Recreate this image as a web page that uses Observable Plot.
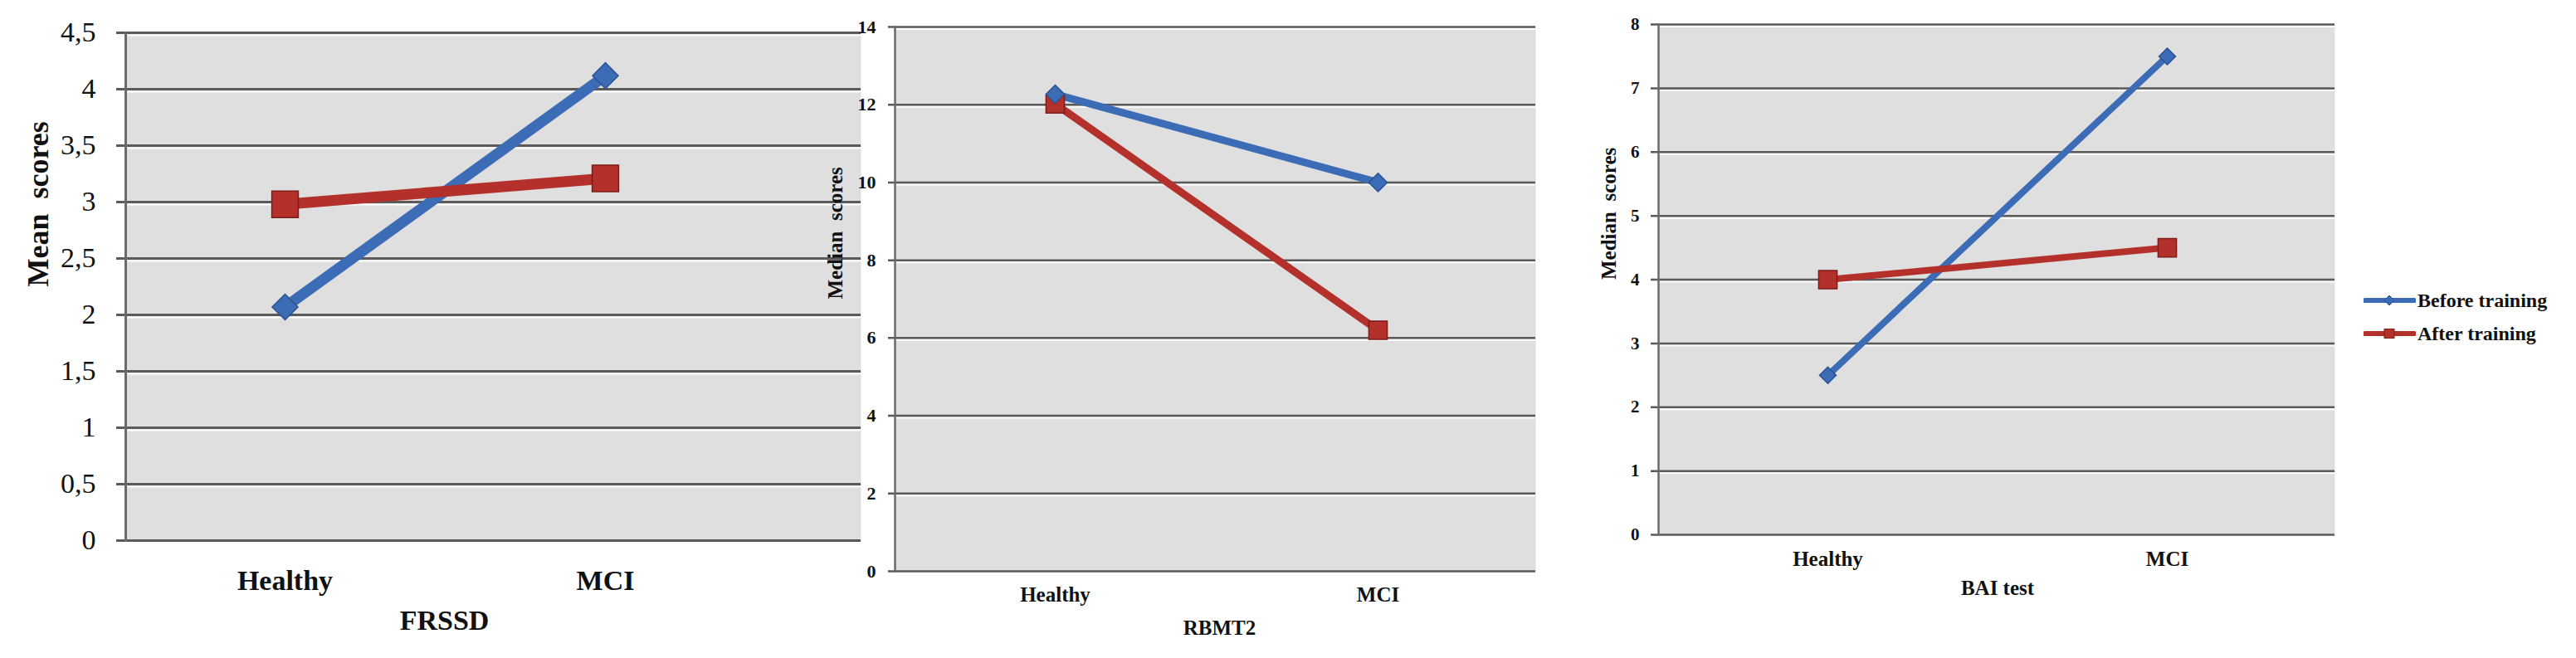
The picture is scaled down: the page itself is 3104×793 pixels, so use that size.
<!DOCTYPE html>
<html><head><meta charset="utf-8">
<script src="https://cdn.jsdelivr.net/npm/d3@7"></script>
<script src="https://cdn.jsdelivr.net/npm/@observablehq/plot@0.6"></script>
<style>
body{margin:0;background:#fff;}
#wrap{position:relative;width:3104px;height:793px;overflow:hidden;background:#fff;}
#wrap > svg{position:absolute;left:0;top:0;}
.leg{position:absolute;left:2848px;height:30px;display:flex;align-items:center;font-family:"Liberation Serif",serif;font-weight:bold;font-size:24px;color:#111;white-space:nowrap;}
.leg svg{margin-right:2px;}
</style></head>
<body><div id="wrap"></div>
<script>
// ---- data ----
const categories = ["Healthy", "MCI"];
const seriesNames = ["Before training", "After training"];
const seriesColors = ["#3b6cb5", "#b3302b"];
const seriesStrokes = ["#2a5290", "#7e1c18"];

const frssdBefore = [2.07, 4.12];
const frssdAfter  = [2.98, 3.21];
const frssdTicks  = [0, 0.5, 1, 1.5, 2, 2.5, 3, 3.5, 4, 4.5];

const rbmtBefore = [12.27, 10];
const rbmtAfter  = [12.02, 6.2];
const rbmtTicks  = [0, 2, 4, 6, 8, 10, 12, 14];

const baiBefore = [2.5, 7.5];
const baiAfter  = [4, 4.5];
const baiTicks  = [0, 1, 2, 3, 4, 5, 6, 7, 8];

const W = 3104, H = 793;

function rowsOf(before, after) {
  return [
    ...categories.map((c, i) => ({cat: c, v: before[i], s: seriesNames[0]})),
    ...categories.map((c, i) => ({cat: c, v: after[i], s: seriesNames[1]}))
  ];
}

function panel(cfg) {
  const rows = rowsOf(cfg.before, cfg.after);
  const color = {domain: seriesNames, range: seriesColors};
  return Plot.plot({
    width: W, height: H,
    marginLeft: cfg.left, marginRight: W - cfg.right,
    marginTop: cfg.top, marginBottom: H - cfg.bottom,
    style: {fontFamily: "Liberation Serif, serif", background: "transparent", overflow: "visible", color: "#111"},
    x: {type: "point", domain: categories, range: cfg.xr, padding: 0, axis: null},
    y: {domain: [0, cfg.max], axis: null},
    color: color,
    marks: [
      Plot.frame({fill: "#dfdfdf", stroke: null}),
      Plot.ruleY(cfg.ticks, {stroke: "#ffffff", strokeWidth: 2, dy: cfg.gw}),
      Plot.ruleY(cfg.ticks, {stroke: "#5a5a5a", strokeWidth: cfg.gw, insetLeft: -cfg.ts}),
      Plot.frame({anchor: "left", stroke: "#6a6a6a", strokeWidth: cfg.gw}),
      Plot.axisY({ticks: cfg.ticks, tickSize: 0, tickPadding: cfg.tp, fontSize: cfg.tfs,
        fontWeight: cfg.tfw, tickFormat: cfg.fmt, label: null}),
      Plot.text(categories, {x: d => d, frameAnchor: "bottom", dy: cfg.xdy, lineAnchor: "middle",
        fontSize: cfg.xfs, fontWeight: "bold"}),
      Plot.text([cfg.xlabel], {frameAnchor: "bottom", dx: cfg.xldx, dy: cfg.xldy, lineAnchor: "middle",
        fontSize: cfg.xlfs, fontWeight: "bold"}),
      Plot.text([cfg.ylabel], {frameAnchor: "left", rotate: -90, dx: cfg.yldx, lineAnchor: "middle",
        fontSize: cfg.ylfs, fontWeight: "bold"}),
      Plot.line(rows, {x: "cat", y: "v", z: "s", stroke: "s", strokeWidth: cfg.lw, strokeLinecap: "butt"}),
      Plot.dot(rows.filter(d => d.s === seriesNames[1]), {x: "cat", y: "v", symbol: "square", r: cfg.rs,
        fill: seriesColors[1], stroke: seriesStrokes[1], strokeWidth: 1.5}),
      Plot.dot(rows.filter(d => d.s === seriesNames[0]), {x: "cat", y: "v", symbol: "diamond2", r: cfg.rd,
        fill: seriesColors[0], stroke: seriesStrokes[0], strokeWidth: 1.5})
    ]
  });
}

const wrap = document.getElementById("wrap");
const comma = d => String(d).replace(".", ",");

wrap.appendChild(panel({
  before: frssdBefore, after: frssdAfter, ticks: frssdTicks, max: 4.5,
  left: 151, right: 1037, top: 39, bottom: 651, xr: [343, 729],
  gw: 3, ts: 11, tp: 36, tfs: 34, tfw: "normal", fmt: comma,
  xdy: 49, xfs: 34, xlabel: "FRSSD", xldx: -59, xldy: 97, xlfs: 34,
  ylabel: "Mean  scores", yldx: -105, ylfs: 36,
  lw: 13, rs: 18, rd: 14
}));

wrap.appendChild(panel({
  before: rbmtBefore, after: rbmtAfter, ticks: rbmtTicks, max: 14,
  left: 1078, right: 1850, top: 32, bottom: 688, xr: [1271, 1660],
  gw: 2.5, ts: 8, tp: 23, tfs: 22, tfw: "bold", fmt: d => d,
  xdy: 28, xfs: 25, xlabel: "RBMT2", xldx: 5, xldy: 68, xlfs: 25,
  ylabel: "Median  scores", yldx: -72, ylfs: 25,
  lw: 9, rs: 12.5, rd: 10
}));

wrap.appendChild(panel({
  before: baiBefore, after: baiAfter, ticks: baiTicks, max: 8,
  left: 1998, right: 2813, top: 29, bottom: 644, xr: [2202, 2611],
  gw: 2.5, ts: 9, tp: 23, tfs: 21, tfw: "bold", fmt: d => d,
  xdy: 29, xfs: 25, xlabel: "BAI test", xldx: 1, xldy: 64, xlfs: 25,
  ylabel: "Median  scores", yldx: -60, ylfs: 25,
  lw: 8, rs: 12.5, rd: 9
}));

// ---- legend ----
const legendTops = [347, 387];
seriesNames.forEach((name, i) => {
  const div = document.createElement("div");
  div.className = "leg";
  div.style.top = legendTops[i] + "px";
  const sym = i === 0
    ? `<path d="M31,2 L37,8 L31,14 L25,8 Z" fill="${seriesColors[0]}" stroke="${seriesStrokes[0]}" stroke-width="1"/>`
    : `<rect x="25" y="2.5" width="12" height="11" fill="${seriesColors[1]}" stroke="${seriesStrokes[1]}" stroke-width="1"/>`;
  div.innerHTML = `<svg width="63" height="16" viewBox="0 0 63 16"><line x1="2" y1="8" x2="61" y2="8" stroke="${seriesColors[i]}" stroke-width="6" stroke-linecap="round"/>${sym}</svg><span>${name}</span>`;
  wrap.appendChild(div);
});
</script></body></html>
